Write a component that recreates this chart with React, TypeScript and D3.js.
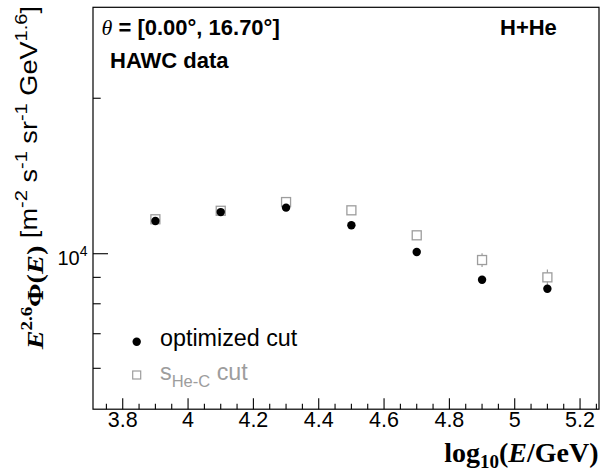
import React from 'react';
import * as d3 from 'd3';

// ---- data ----
const energyBins = [3.9, 4.1, 4.3, 4.5, 4.7, 4.9, 5.1];
const optimizedFlux = [11570, 12040, 12280, 11350, 10076, 8906, 8554];
const optimizedErr = [60, 60, 70, 70, 80, 90, 100];
const heCFlux = [11660, 12110, 12590, 12135, 10855, 9723, 9000];
const heCErr = [120, 130, 230, 140, 200, 295, 325];
const xTickValues = [3.8, 4.0, 4.2, 4.4, 4.6, 4.8, 5.0, 5.2];
const xTickLabels = ['3.8', '4', '4.2', '4.4', '4.6', '4.8', '5', '5.2'];
const yMinorTicks = [6000, 7000, 8000, 9000, 20000];
const yMajorTicks = [10000];

const SANS = "'Liberation Sans', Arial, Helvetica, sans-serif";
const SERIF = "'Liberation Serif', 'Times New Roman', serif";
const GRAY = '#9d9d9d';

export default function App() {
  const L = 93, R = 599, T = 7.3, B = 409.2;
  const x = d3.scaleLinear().domain([3.709, 5.258]).range([L, R]);
  const y = d3.scaleLog().domain([5000, 30000]).range([B, T]);

  const xMinor: number[] = [];
  for (let i = 0; i < 40; i++) {
    const v = 3.75 + i * 0.05;
    if (v > 5.258) break;
    if (v < 3.709) continue;
    if (xTickValues.some((t) => Math.abs(t - v) < 1e-6)) continue;
    xMinor.push(v);
  }

  const rC = 4.2; // circle radius
  const hS = 4.5; // half square

  return (
    <svg width={600} height={474} style={{ position: 'absolute', left: 0, top: 0, background: '#fff' }}>
      <rect x={0} y={0} width={600} height={474} fill="#fff" />
      {/* frame */}
      <rect x={L} y={T} width={R - L} height={B - T} fill="none" stroke="#000" strokeWidth={1.2} />

      {/* x ticks */}
      {xTickValues.map((v, i) => (
        <g key={'xt' + i}>
          <line x1={x(v)} x2={x(v)} y1={B} y2={B - 11} stroke="#000" strokeWidth={1.1} />
          <text x={x(v)} y={426.7} textAnchor="middle" fontFamily={SANS} fontSize={21.5}>{xTickLabels[i]}</text>
        </g>
      ))}
      {xMinor.map((v, i) => (
        <line key={'xm' + i} x1={x(v)} x2={x(v)} y1={B} y2={B - 5.5} stroke="#000" strokeWidth={1.1} />
      ))}

      {/* y ticks */}
      {yMajorTicks.map((v, i) => (
        <g key={'ym' + i}>
          <line x1={L} x2={L + 15} y1={y(v)} y2={y(v)} stroke="#000" strokeWidth={1.1} />
          <text x={87.5} y={y(v) + 11.5} textAnchor="end" fontFamily={SANS} fontSize={20}>
            10<tspan fontSize={14} dy={-9}>4</tspan>
          </text>
        </g>
      ))}
      {yMinorTicks.map((v, i) => (
        <line key={'yn' + i} x1={L} x2={L + 7.7} y1={y(v)} y2={y(v)} stroke="#000" strokeWidth={1.1} />
      ))}

      {/* He-C series: open squares with error bars */}
      {energyBins.map((e, i) => {
        const cx = x(e), cy = y(heCFlux[i]);
        const yHi = y(heCFlux[i] + heCErr[i]);
        const yLo = y(heCFlux[i] - heCErr[i]);
        return (
          <g key={'s' + i}>
            {cy - yHi > hS && <line x1={cx} x2={cx} y1={cy - hS} y2={yHi} stroke={GRAY} strokeWidth={1.2} />}
            {yLo - cy > hS && <line x1={cx} x2={cx} y1={cy + hS} y2={yLo} stroke={GRAY} strokeWidth={1.2} />}
            <rect x={cx - hS} y={cy - hS} width={2 * hS} height={2 * hS} fill="none" stroke={GRAY} strokeWidth={1.3} />
          </g>
        );
      })}

      {/* optimized cut: filled circles */}
      {energyBins.map((e, i) => {
        const cx = x(e), cy = y(optimizedFlux[i]);
        const yHi = y(optimizedFlux[i] + optimizedErr[i]);
        const yLo = y(optimizedFlux[i] - optimizedErr[i]);
        return (
          <g key={'c' + i}>
            {cy - yHi > rC && <line x1={cx} x2={cx} y1={cy - rC} y2={yHi} stroke="#000" strokeWidth={1.2} />}
            {yLo - cy > rC && <line x1={cx} x2={cx} y1={cy + rC} y2={yLo} stroke="#000" strokeWidth={1.2} />}
            <circle cx={cx} cy={cy} r={rC} fill="#000" />
          </g>
        );
      })}

      {/* texts in frame */}
      <text x={101.5} y={35} fontFamily={SANS} fontSize={22} fontWeight="bold">
        <tspan fontFamily={SERIF} fontStyle="italic" fontWeight="normal">θ</tspan> = [0.00°, 16.70°]
      </text>
      <text x={110} y={68.3} fontFamily={SANS} fontSize={22} fontWeight="bold">HAWC data</text>
      <text x={500} y={35} fontFamily={SANS} fontSize={22} fontWeight="bold">H+He</text>

      {/* legend */}
      <circle cx={136.7} cy={341.7} r={rC} fill="#000" />
      <text x={160} y={346} fontFamily={SANS} fontSize={23.3}>optimized cut</text>
      <rect x={136.7 - 4} y={375 - 4} width={8} height={8} fill="none" stroke={GRAY} strokeWidth={1.2} />
      <text x={160} y={380} fontFamily={SANS} fontSize={23.3} fill={GRAY}>
        s<tspan fontSize={16.5} dy={7}>He-C</tspan><tspan dy={-7}> cut</tspan>
      </text>

      {/* x-axis title */}
      <text x={598.5} y={461.7} textAnchor="end" fontFamily={SERIF} fontSize={28} fontWeight="bold">
        log<tspan fontSize={19} dy={6}>10</tspan><tspan dy={-6}>(</tspan><tspan fontStyle="italic">E</tspan>/GeV)
      </text>

      {/* y-axis title */}
      <text transform="translate(37,6) rotate(-90) scale(1.18,1)" textAnchor="end" fontFamily={SANS} fontSize={23}>
        <tspan fontFamily={SERIF} fontWeight="bold" fontStyle="italic" fontSize={24} dy={6}>E</tspan>
        <tspan fontFamily={SERIF} fontWeight="bold" fontSize={16} dy={-11}>2.6</tspan>
        <tspan fontFamily={SERIF} fontWeight="bold" fontSize={24} dy={11}>Φ(</tspan>
        <tspan fontFamily={SERIF} fontWeight="bold" fontStyle="italic" fontSize={24}>E</tspan>
        <tspan fontFamily={SERIF} fontWeight="bold" fontSize={24}>)</tspan>
        <tspan dy={-6}> [m</tspan>
        <tspan fontSize={17} dy={-10}>-2</tspan>
        <tspan dy={10}> s</tspan>
        <tspan fontSize={17} dy={-10}>-1</tspan>
        <tspan dy={10}> sr</tspan>
        <tspan fontSize={17} dy={-10}>-1</tspan>
        <tspan dy={10}> GeV</tspan>
        <tspan fontSize={17} dy={-10}>1.6</tspan>
        <tspan dy={10}>]</tspan>
      </text>
    </svg>
  );
}
